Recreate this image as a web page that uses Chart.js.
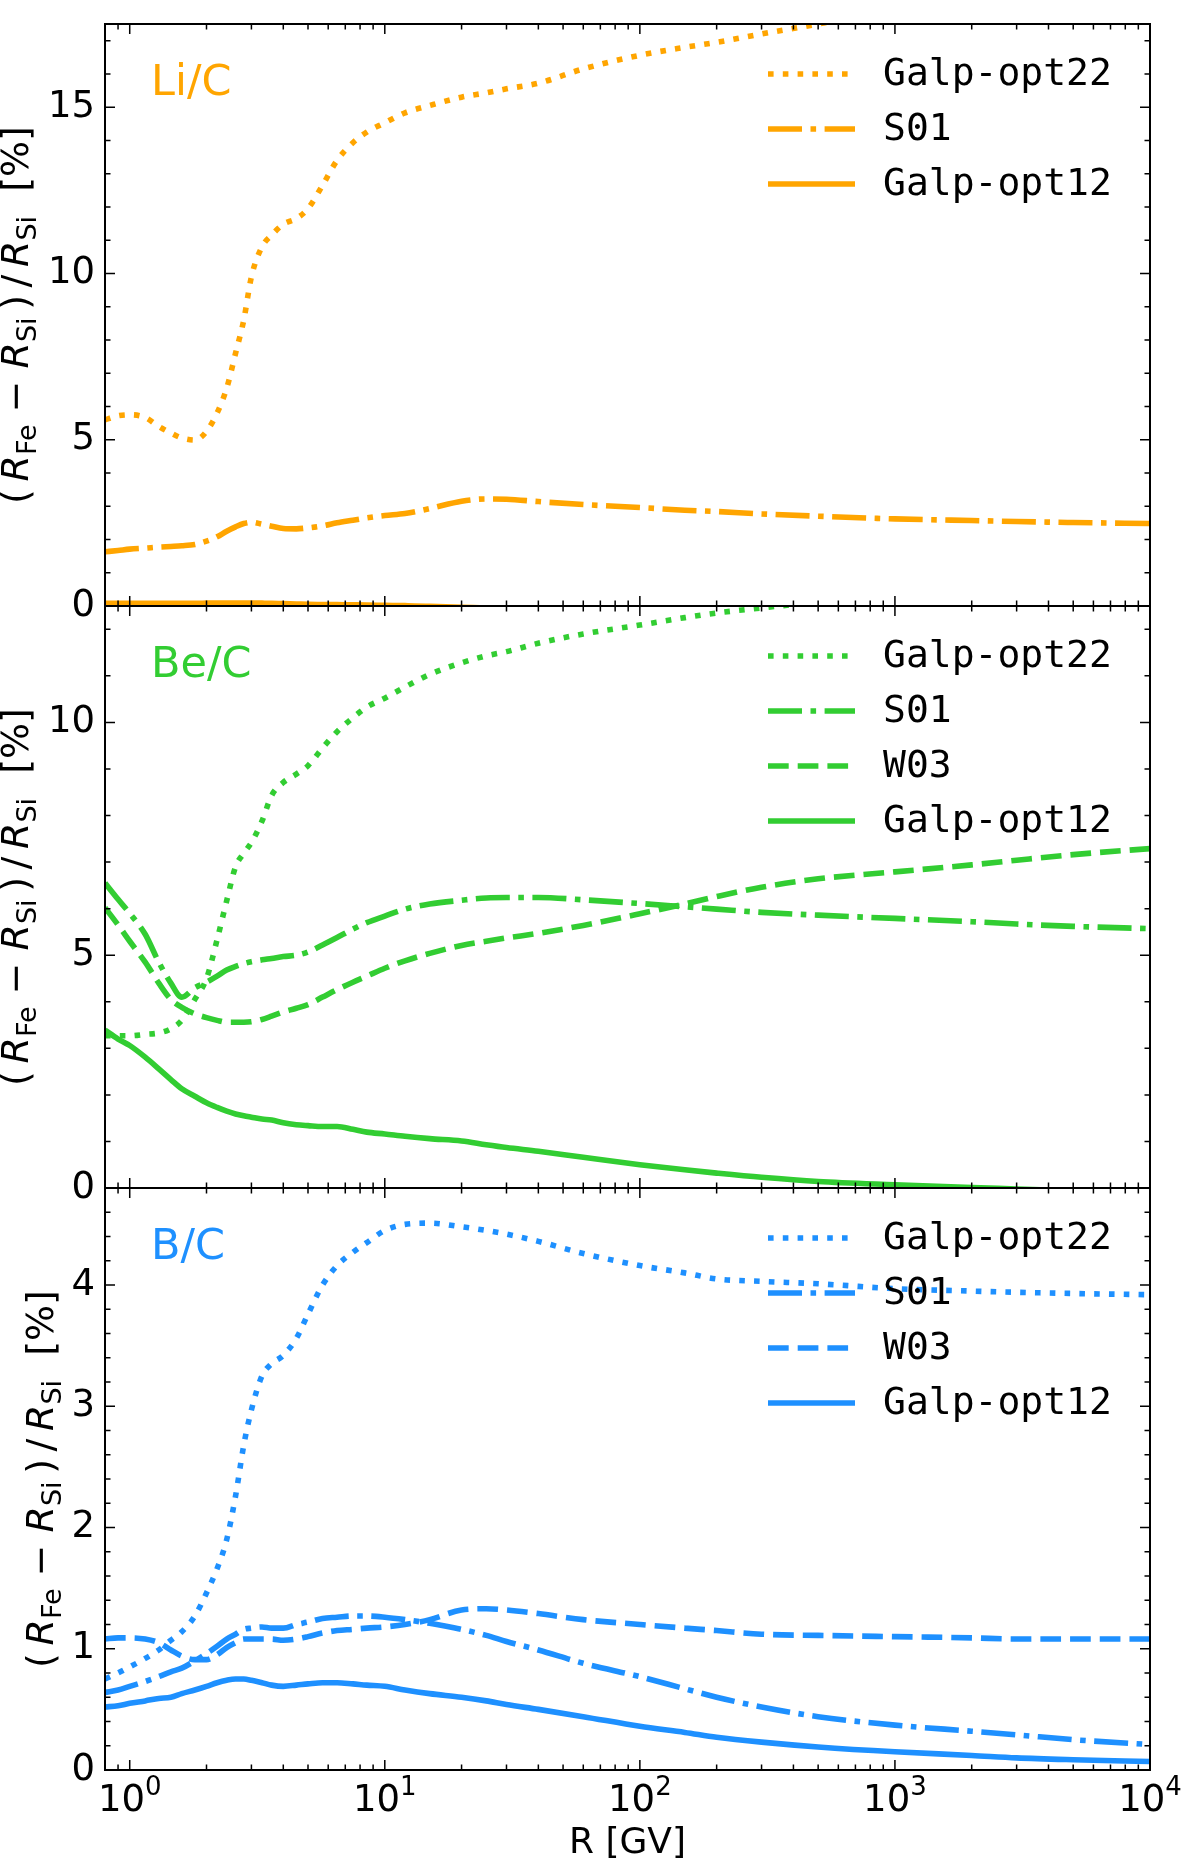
<!DOCTYPE html>
<html>
<head>
<meta charset="utf-8">
<script src="https://cdn.jsdelivr.net/npm/chart.js@4.4.1/dist/chart.umd.min.js"></script>
<style>
  html, body { margin: 0; padding: 0; background: #fff; }
  body { width: 1200px; height: 1863px; position: relative; overflow: hidden; }
  .panel { position: absolute; left: 0; width: 1200px; }
</style>
</head>
<body>
<div class="panel" style="top:0px;height:622px"><canvas id="liChart"></canvas></div>
<div class="panel" style="top:590px;height:614px"><canvas id="beChart"></canvas></div>
<div class="panel" style="top:1172px;height:691px"><canvas id="bChart"></canvas></div>
<script>
// rigidity grid [GV]
const rigidity = [0.8, 0.9, 1, 1.15, 1.3, 1.45, 1.6, 1.8, 2, 2.2,
  2.4, 2.6, 2.8, 3, 3.3, 3.6, 4, 4.5, 5, 5.7,
  6.5, 7.5, 8.5, 10, 12, 15, 20, 25, 30, 40,
  60, 100, 150, 200, 300, 500, 1000, 2000, 3000, 5000,
  10000];

// Li/C
const liOpt22 = [5.6, 5.72, 5.75, 5.67, 5.4, 5.2, 5.05, 4.99, 5.25, 5.8,
  6.55, 7.6, 8.6, 9.9, 10.8, 11.15, 11.48, 11.65, 11.95, 12.65,
  13.4, 13.93, 14.25, 14.53, 14.83, 15.05, 15.3, 15.43, 15.55, 15.72,
  16.15, 16.56, 16.8, 16.95, 17.2, 17.5, 17.95, 18.3, 18.5, 18.8,
  19.2];
const liS01 = [1.63, 1.67, 1.71, 1.74, 1.77, 1.79, 1.81, 1.85, 1.95, 2.08,
  2.25, 2.38, 2.48, 2.52, 2.46, 2.4, 2.33, 2.32, 2.35, 2.41,
  2.5, 2.58, 2.65, 2.72, 2.78, 2.93, 3.15, 3.22, 3.21, 3.14,
  3.05, 2.96, 2.88, 2.84, 2.77, 2.7, 2.62, 2.57, 2.54, 2.51,
  2.48];
const liOpt12 = [0.08, 0.08, 0.08, 0.08, 0.08, 0.08, 0.08, 0.08, 0.085, 0.09,
  0.09, 0.09, 0.09, 0.09, 0.085, 0.08, 0.07, 0.06, 0.05, 0.045,
  0.04, 0.035, 0.03, 0.02, 0.01, -0.01, -0.04, -0.06, -0.08, -0.1,
  -0.13, -0.16, -0.18, -0.2, -0.22, -0.25, -0.28, -0.3, -0.31, -0.32,
  -0.34];

// Be/C
const beOpt22 = [3.27, 3.27, 3.27, 3.3, 3.33, 3.42, 3.6, 4.05, 4.5, 5.33,
  6.17, 6.9, 7.19, 7.42, 7.88, 8.43, 8.71, 8.89, 9.07, 9.45,
  9.8, 10.1, 10.33, 10.52, 10.76, 11.03, 11.28, 11.43, 11.52, 11.7,
  11.9, 12.09, 12.25, 12.35, 12.46, 12.6, 12.95, 13.2, 13.35, 13.55,
  13.8];
const beS01 = [6.55, 6.2, 5.9, 5.45, 4.85, 4.4, 4.1, 4.3, 4.42, 4.55,
  4.68, 4.76, 4.82, 4.86, 4.9, 4.93, 4.97, 5.0, 5.07, 5.22,
  5.38, 5.56, 5.7, 5.84, 5.99, 6.1, 6.18, 6.23, 6.24, 6.24,
  6.19, 6.11, 6.04, 5.99, 5.92, 5.86, 5.79, 5.72, 5.67, 5.62,
  5.57];
const beW03 = [6.02, 5.65, 5.3, 4.85, 4.4, 4.05, 3.88, 3.74, 3.66, 3.6,
  3.56, 3.56, 3.56, 3.57, 3.62, 3.69, 3.78, 3.86, 3.94, 4.1,
  4.26, 4.42, 4.55, 4.72, 4.88, 5.04, 5.21, 5.3, 5.37, 5.47,
  5.64, 5.89, 6.1, 6.26, 6.46, 6.64, 6.79, 6.94, 7.04, 7.16,
  7.29];
const beOpt12 = [3.39, 3.2, 3.06, 2.81, 2.56, 2.33, 2.13, 1.97, 1.83, 1.73,
  1.65, 1.59, 1.55, 1.52, 1.48, 1.46, 1.4, 1.36, 1.34, 1.32,
  1.32, 1.26, 1.2, 1.16, 1.11, 1.06, 1.01, 0.93, 0.87, 0.79,
  0.66, 0.5, 0.39, 0.32, 0.23, 0.14, 0.07, 0.01, -0.02, -0.06,
  -0.12];

// B/C
const bOpt22 = [0.75, 0.8, 0.85, 0.92, 0.99, 1.07, 1.14, 1.27, 1.46, 1.66,
  1.9, 2.26, 2.68, 2.97, 3.25, 3.35, 3.42, 3.56, 3.76, 4.0,
  4.16, 4.27, 4.35, 4.45, 4.5, 4.51, 4.48, 4.45, 4.42, 4.36,
  4.26, 4.16, 4.1, 4.05, 4.03, 4.01, 3.97, 3.95, 3.94, 3.93,
  3.92];
const bS01 = [0.64, 0.66, 0.69, 0.73, 0.77, 0.81, 0.84, 0.9, 0.96, 1.02,
  1.08, 1.12, 1.16, 1.17, 1.18, 1.17, 1.17, 1.2, 1.22, 1.25,
  1.26, 1.27, 1.27, 1.26, 1.24, 1.21, 1.16, 1.11, 1.06, 0.99,
  0.88, 0.77, 0.67, 0.6, 0.52, 0.44, 0.37, 0.32, 0.29, 0.25,
  0.21];
const bW03 = [1.08, 1.09, 1.09, 1.08, 1.05, 0.99, 0.94, 0.91, 0.91, 0.95,
  1.01, 1.05, 1.08, 1.08, 1.08, 1.08, 1.07, 1.08, 1.1, 1.13,
  1.15, 1.16, 1.17, 1.18, 1.2, 1.24, 1.32, 1.33, 1.32, 1.29,
  1.24, 1.2, 1.17, 1.15, 1.12, 1.11, 1.1, 1.09, 1.08, 1.08,
  1.08];
const bOpt12 = [0.52, 0.53, 0.55, 0.57, 0.59, 0.6, 0.63, 0.66, 0.69, 0.72,
  0.74, 0.75, 0.75, 0.74, 0.72, 0.7, 0.69, 0.7, 0.71, 0.72,
  0.72, 0.71, 0.7, 0.69, 0.66, 0.63, 0.6, 0.57, 0.54, 0.5,
  0.44, 0.36, 0.31, 0.27, 0.23, 0.19, 0.15, 0.12, 0.1, 0.085,
  0.07];

const panelNames = ['Li/C', 'Be/C', 'B/C'];
const xTickValues = [1, 10, 100, 1000, 10000];
const xTickExponents = ['0', '1', '2', '3', '4'];
const yTicksLi = [0, 5, 10, 15];
const yTicksBe = [0, 5, 10];
const yTicksB = [0, 1, 2, 3, 4];

const ORANGE = '#ffa500', GREEN = '#32cd32', BLUE = '#1e90ff';
const LW = 5.6;
const DOTTED = [5.6, 9.2], DASHED = [20.7, 9], DASHDOT = [34, 8.5, 5.6, 8.5], SOLID = [];

function series(label, values, color, dash) {
  return {
    label: label,
    data: rigidity.map((r, i) => ({ x: r, y: values[i] })),
    borderColor: color,
    backgroundColor: color,
    borderWidth: LW,
    borderDash: dash,
    borderCapStyle: 'butt',
    pointRadius: 0,
    cubicInterpolationMode: 'monotone',
    fill: false,
    clip: 0
  };
}

function drawYTitle(ctx, x, y) {
  const big = 38, small = 27, sub = 8;
  const up = big + 'px "DejaVu Sans"', it = 'italic ' + big + 'px "DejaVu Sans"', sm = small + 'px "DejaVu Sans"';
  const parts = [
    ['(\u2009', up, 0], ['R', it, 0], ['Fe', sm, sub], [' \u2212 ', up, 0],
    ['R', it, 0], ['Si', sm, sub], ['\u2009)\u2009/\u2009', up, 0],
    ['R', it, 0], ['Si', sm, sub], ['  [%]', up, 0]
  ];
  ctx.save();
  ctx.translate(x, y);
  ctx.rotate(-Math.PI / 2);
  ctx.fillStyle = '#000';
  ctx.textAlign = 'left';
  ctx.textBaseline = 'alphabetic';
  let total = 0;
  parts.forEach(p => { ctx.font = p[1]; total += ctx.measureText(p[0]).width; });
  let u = -total / 2;
  parts.forEach(p => {
    ctx.font = p[1];
    ctx.fillText(p[0], u, p[2]);
    u += ctx.measureText(p[0]).width;
  });
  ctx.restore();
}

// frame, inward ticks, legend, panel name, y title and power-of-ten labels
const axesDecor = {
  id: 'axesDecor',
  afterDraw(chart, args, o) {
    const ctx = chart.ctx, a = chart.chartArea;
    const xs = chart.scales.x, ys = chart.scales.y;
    ctx.save();

    ctx.textAlign = 'left';
    ctx.textBaseline = 'middle';
    chart.data.datasets.forEach((ds, i) => {
      const y = a.top + 50 + 55 * i;
      ctx.beginPath();
      ctx.setLineDash(ds.borderDash);
      ctx.lineDashOffset = 0;
      ctx.lineCap = 'butt';
      ctx.strokeStyle = ds.borderColor;
      ctx.lineWidth = ds.borderWidth;
      ctx.moveTo(768, y);
      ctx.lineTo(855, y);
      ctx.stroke();
      ctx.setLineDash([]);
      ctx.fillStyle = '#000';
      ctx.font = '38px "DejaVu Sans Mono"';
      ctx.fillText(ds.label, 883, y + 1);
    });

    ctx.fillStyle = o.color;
    ctx.font = '43px "DejaVu Sans"';
    ctx.fillText(o.name, 151, a.top + 60);

    drawYTitle(ctx, o.titleX, (a.top + a.bottom) / 2);

    if (o.xLabels) {
      ctx.fillStyle = '#000';
      ctx.textBaseline = 'alphabetic';
      xTickValues.forEach((v, i) => {
        const px = xs.getPixelForValue(v);
        ctx.font = '37px "DejaVu Sans"';
        const w1 = ctx.measureText('10').width;
        ctx.font = '26px "DejaVu Sans"';
        const w2 = ctx.measureText(xTickExponents[i]).width;
        const x0 = px - (w1 + w2) / 2;
        ctx.font = '37px "DejaVu Sans"';
        ctx.fillText('10', x0, a.bottom + 41);
        ctx.font = '26px "DejaVu Sans"';
        ctx.fillText(xTickExponents[i], x0 + w1, a.bottom + 25);
      });
    }

    ctx.strokeStyle = '#000';
    ctx.lineWidth = 1.5;
    ctx.beginPath();
    for (let d = -1; d <= 4; d++) {
      for (let k = 1; k <= 9; k++) {
        const v = k * Math.pow(10, d);
        if (v < xs.min || v > xs.max) continue;
        const len = k === 1 ? 10 : 5.5;
        const px = xs.getPixelForValue(v);
        ctx.moveTo(px, a.top); ctx.lineTo(px, a.top + len);
        ctx.moveTo(px, a.bottom); ctx.lineTo(px, a.bottom - len);
      }
    }
    const nMinor = Math.floor(ys.max / o.minorStep + 1e-6);
    for (let j = 0; j <= nMinor; j++) {
      const v = j * o.minorStep;
      const major = Math.abs(v / o.majorStep - Math.round(v / o.majorStep)) < 1e-6;
      const len = major ? 10 : 5.5;
      const py = ys.getPixelForValue(v);
      ctx.moveTo(a.left, py); ctx.lineTo(a.left + len, py);
      ctx.moveTo(a.right, py); ctx.lineTo(a.right - len, py);
    }
    ctx.stroke();

    ctx.lineWidth = 2;
    ctx.strokeRect(a.left, a.top, a.right - a.left, a.bottom - a.top);
    ctx.restore();
  }
};

function makePanel(canvasId, p) {
  return new Chart(document.getElementById(canvasId), {
    type: 'line',
    data: { datasets: p.datasets },
    options: {
      responsive: true,
      maintainAspectRatio: false,
      animation: false,
      events: [],
      layout: { padding: { top: 16 + (p.extraTop || 0), left: 0, right: 50, bottom: p.showX ? 0 : 16 } },
      plugins: {
        legend: { display: false },
        tooltip: { enabled: false },
        axesDecor: {
          name: p.name, color: p.color, titleX: p.titleX,
          majorStep: p.majorStep, minorStep: p.minorStep, xLabels: p.showX
        }
      },
      scales: {
        x: {
          type: 'logarithmic',
          min: 0.8,
          max: 10000,
          display: p.showX,
          afterFit: s => {
            s.height = p.showX ? 93 : 0;
            s.paddingLeft = 0; s.paddingRight = 0;
          },
          afterBuildTicks: s => { s.ticks = xTickValues.map(v => ({ value: v })); },
          grid: { display: false, drawTicks: false },
          border: { display: false },
          ticks: { display: false },
          title: {
            display: true, text: 'R [GV]', color: '#000',
            font: { family: 'DejaVu Sans', size: 36 }, padding: { top: 0, bottom: -2 }
          }
        },
        y: {
          type: 'linear',
          min: 0,
          max: p.yMax,
          afterFit: s => {
            s.width = 105;
            s.paddingTop = 0; s.paddingBottom = 0;
          },
          afterBuildTicks: s => { s.ticks = p.yTicks.map(v => ({ value: v })); },
          grid: { display: false, drawTicks: false },
          border: { display: false },
          ticks: { padding: 10, color: '#000', font: { family: 'DejaVu Sans', size: 37 } }
        }
      }
    },
    plugins: [axesDecor]
  });
}

makePanel('liChart', {
  name: panelNames[0], color: ORANGE, yMax: 17.5, yTicks: yTicksLi, majorStep: 5, minorStep: 1,
  titleX: 28, showX: false, extraTop: 8,
  datasets: [
    series('Galp-opt22', liOpt22, ORANGE, DOTTED),
    series('S01', liS01, ORANGE, DASHDOT),
    series('Galp-opt12', liOpt12, ORANGE, SOLID)
  ]
});

makePanel('beChart', {
  name: panelNames[1], color: GREEN, yMax: 12.5, yTicks: yTicksBe, majorStep: 5, minorStep: 1,
  titleX: 28, showX: false,
  datasets: [
    series('Galp-opt22', beOpt22, GREEN, DOTTED),
    series('S01', beS01, GREEN, DASHDOT),
    series('W03', beW03, GREEN, DASHED),
    series('Galp-opt12', beOpt12, GREEN, SOLID)
  ]
});

makePanel('bChart', {
  name: panelNames[2], color: BLUE, yMax: 4.8, yTicks: yTicksB, majorStep: 1, minorStep: 0.2,
  titleX: 53, showX: true,
  datasets: [
    series('Galp-opt22', bOpt22, BLUE, DOTTED),
    series('S01', bS01, BLUE, DASHDOT),
    series('W03', bW03, BLUE, DASHED),
    series('Galp-opt12', bOpt12, BLUE, SOLID)
  ]
});
</script>
</body>
</html>
